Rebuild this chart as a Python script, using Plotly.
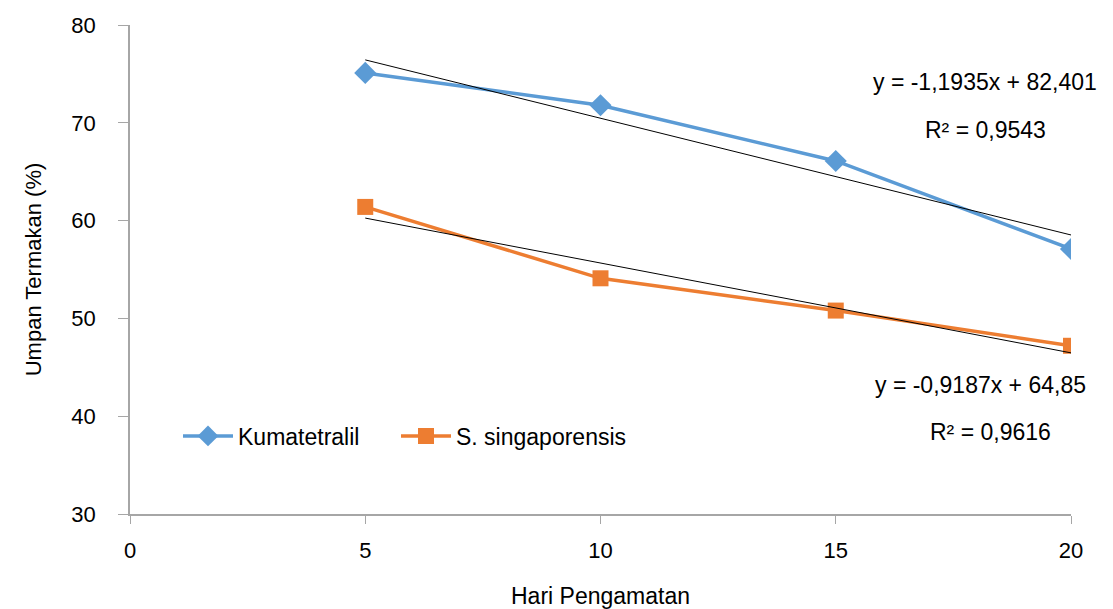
import plotly.graph_objects as go

days = [5, 10, 15, 20]
kumatetralil = [75.1, 71.8, 66.1, 57.1]
singaporensis = [61.4, 54.1, 50.8, 47.2]

trend_x = [5, 20]
k_slope, k_int = -1.1935, 82.401
s_slope, s_int = -0.9187, 64.85

eq_k = "y = -1,1935x + 82,401"
r2_k = "R² = 0,9543"
eq_s = "y = -0,9187x + 64,85"
r2_s = "R² = 0,9616"

blue = "#5B9BD5"
orange = "#ED7D31"
font = "Liberation Sans, Arial, sans-serif"

fig = go.Figure()
fig.add_trace(go.Scatter(x=days, y=kumatetralil, mode="lines+markers", name="Kumatetralil",
                         line=dict(color=blue, width=3.5), legend="legend",
                         marker=dict(symbol="diamond", size=17, color=blue)))
fig.add_trace(go.Scatter(x=days, y=singaporensis, mode="lines+markers", name="S. singaporensis",
                         line=dict(color=orange, width=3.5), legend="legend2",
                         marker=dict(symbol="square", size=16, color=orange)))
fig.add_trace(go.Scatter(x=trend_x, y=[k_slope * x + k_int for x in trend_x], mode="lines",
                         line=dict(color="black", width=1), showlegend=False, hoverinfo="skip"))
fig.add_trace(go.Scatter(x=trend_x, y=[s_slope * x + s_int for x in trend_x], mode="lines",
                         line=dict(color="black", width=1), showlegend=False, hoverinfo="skip"))

W, H = 1113, 609
L, R, T, B = 130, 42, 25, 95
pw, ph = W - L - R, H - T - B

def px(x):
    return (x - L) / pw

def py(y):
    return (H - B - y) / ph

for text, x, y in [(eq_k, 985, 82), (r2_k, 985, 130), (eq_s, 980, 385), (r2_s, 990, 432)]:
    fig.add_annotation(text=text, x=px(x), y=py(y), xref="paper", yref="paper",
                       showarrow=False, font=dict(size=23, color="black", family=font),
                       xanchor="center", yanchor="middle")

legend_common = dict(orientation="h", y=py(436), xanchor="left", yanchor="middle",
                     font=dict(size=23), bgcolor="rgba(0,0,0,0)", itemwidth=50)

fig.update_layout(
    width=W, height=H,
    margin=dict(l=L, r=R, t=T, b=B, autoexpand=False),
    plot_bgcolor="white", paper_bgcolor="white",
    font=dict(family=font, size=23, color="black"),
    legend=dict(x=px(178), **legend_common),
    legend2=dict(x=px(396), **legend_common),
    xaxis=dict(range=[0, 20], tickvals=[0, 5, 10, 15, 20], showgrid=False, zeroline=False,
               automargin=False,
               showline=True, linecolor="#A6A6A6", linewidth=1.5, ticks="outside", ticklen=8,
               tickcolor="#A6A6A6", tickfont=dict(size=22), ticklabelstandoff=8,
               title=dict(text="Hari Pengamatan", font=dict(size=23), standoff=28)),
    yaxis=dict(range=[30, 80], tickvals=[30, 40, 50, 60, 70, 80], showgrid=False, zeroline=False,
               automargin=False,
               showline=True, linecolor="#A6A6A6", linewidth=1.5, ticks="outside", ticklen=10,
               tickcolor="#A6A6A6", tickfont=dict(size=22), ticklabelstandoff=18,
               title=dict(text="Umpan Termakan (%)", font=dict(size=22), standoff=24)),
)

fig.write_html("out.html", config={"displayModeBar": False},
               post_script="document.body.style.margin='0';")
